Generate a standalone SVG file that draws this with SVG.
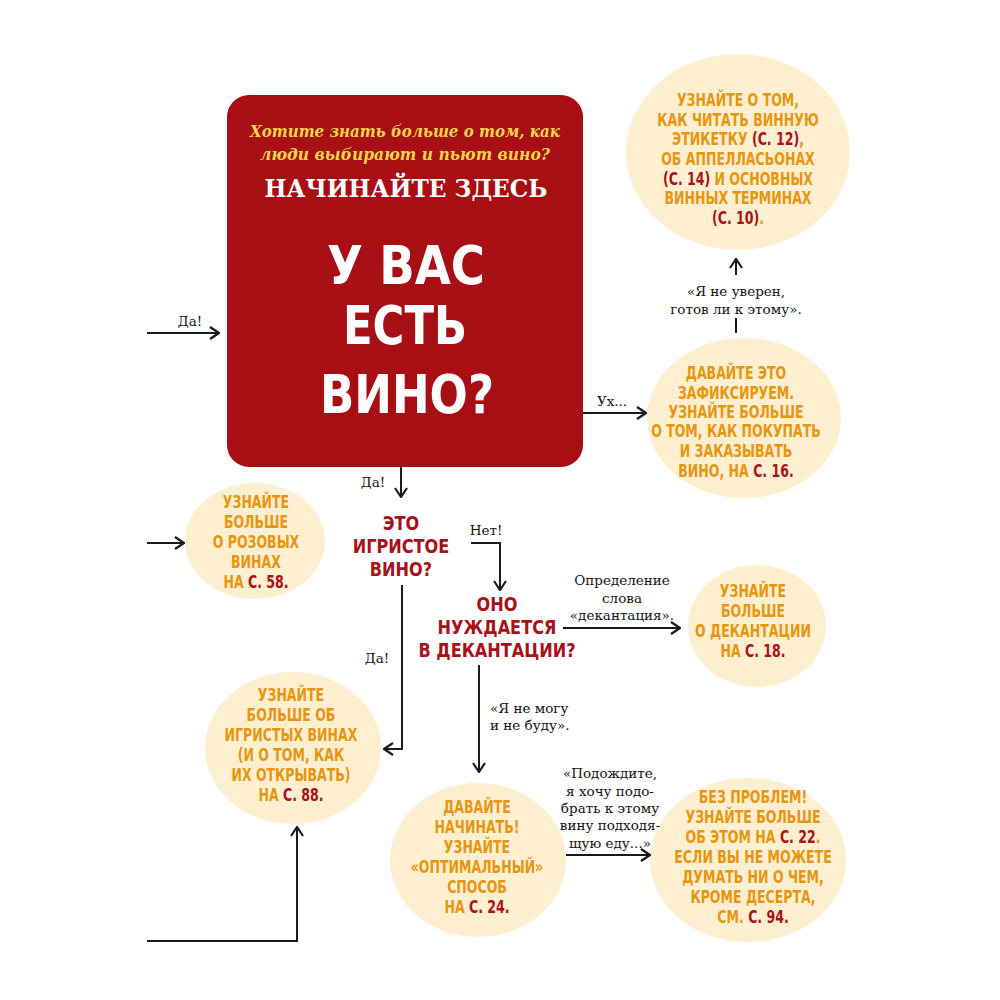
<svg xmlns="http://www.w3.org/2000/svg" width="1000" height="1000" viewBox="0 0 1000 1000">
<defs>
<marker id="ah" viewBox="0 0 12 14" refX="11" refY="7" markerWidth="12" markerHeight="14" markerUnits="userSpaceOnUse" orient="auto">
<path d="M2,1 L11,7 L2,13" fill="none" stroke="#1a1a1a" stroke-width="2.2"/>
</marker>
</defs>
<style>
.bg{fill:#ffffff}
.blob{fill:#fdefd0}
.o{font-family:"DejaVu Sans Condensed","DejaVu Sans","Liberation Sans",sans-serif;font-stretch:condensed;font-weight:bold;font-size:17px;fill:#e8950e;text-anchor:middle}
.r{fill:#a6111a}
.q{font-family:"DejaVu Sans Condensed","DejaVu Sans","Liberation Sans",sans-serif;font-stretch:condensed;font-weight:bold;font-size:19.5px;fill:#a6111a;text-anchor:middle}
.b{font-family:"DejaVu Serif","Liberation Serif",serif;font-size:13.5px;fill:#111111;text-anchor:middle}
.bs{font-family:"DejaVu Serif","Liberation Serif",serif;font-size:13.5px;fill:#111111;text-anchor:start}
.ln{fill:none;stroke:#1a1a1a;stroke-width:2}
.arr{fill:none;stroke:#1a1a1a;stroke-width:2;marker-end:url(#ah)}
</style>
<rect class="bg" x="0" y="0" width="1000" height="1000"/>

<g id="start">
<rect x="227" y="95" width="356" height="372" rx="22" fill="#a70f14"/>
<text x="405" y="137" font-family="'DejaVu Serif','Liberation Serif',serif" font-style="italic" font-weight="bold" font-size="16" fill="#f3d44b" text-anchor="middle" textLength="310" lengthAdjust="spacingAndGlyphs">Хотите знать больше о том, как</text>
<text x="405" y="160" font-family="'DejaVu Serif','Liberation Serif',serif" font-style="italic" font-weight="bold" font-size="16" fill="#f3d44b" text-anchor="middle" textLength="290" lengthAdjust="spacingAndGlyphs">люди выбирают и пьют вино?</text>
<text x="406" y="197" font-family="'DejaVu Serif','Liberation Serif',serif" font-weight="bold" font-size="25" fill="#ffffff" text-anchor="middle" textLength="283" lengthAdjust="spacingAndGlyphs">НАЧИНАЙТЕ ЗДЕСЬ</text>
<text x="406" y="284" font-family="'DejaVu Sans Condensed','DejaVu Sans',sans-serif" font-weight="bold" font-size="54" fill="#ffffff" text-anchor="middle" textLength="158" lengthAdjust="spacingAndGlyphs">У ВАС</text>
<text x="405" y="344" font-family="'DejaVu Sans Condensed','DejaVu Sans',sans-serif" font-weight="bold" font-size="54" fill="#ffffff" text-anchor="middle" textLength="124" lengthAdjust="spacingAndGlyphs">ЕСТЬ</text>
<text x="407" y="413" font-family="'DejaVu Sans Condensed','DejaVu Sans',sans-serif" font-weight="bold" font-size="54" fill="#ffffff" text-anchor="middle" textLength="174" lengthAdjust="spacingAndGlyphs">ВИНО?</text>
</g>

<g id="labels-terms">
<ellipse class="blob" cx="738" cy="152" rx="112" ry="98"/>
<g transform="translate(738 0) scale(0.82 1) translate(-738 0)">
<text class="o" x="738" y="106">УЗНАЙТЕ О ТОМ,</text>
<text class="o" x="738" y="126">КАК ЧИТАТЬ ВИННУЮ</text>
<text class="o" x="738" y="145">ЭТИКЕТКУ <tspan class="r">(С. 12)</tspan>,</text>
<text class="o" x="738" y="165">ОБ АППЕЛЛАСЬОНАХ</text>
<text class="o" x="738" y="185"><tspan class="r">(С. 14)</tspan> И ОСНОВНЫХ</text>
<text class="o" x="738" y="204">ВИННЫХ ТЕРМИНАХ</text>
<text class="o" x="738" y="224"><tspan class="r">(С. 10)</tspan>.</text>
</g>
</g>

<g id="buy">
<ellipse class="blob" cx="744" cy="418" rx="97" ry="80"/>
<g transform="translate(736 0) scale(0.82 1) translate(-736 0)">
<text class="o" x="736" y="379">ДАВАЙТЕ ЭТО</text>
<text class="o" x="736" y="399">ЗАФИКСИРУЕМ.</text>
<text class="o" x="736" y="418">УЗНАЙТЕ БОЛЬШЕ</text>
<text class="o" x="736" y="437">О ТОМ, КАК ПОКУПАТЬ</text>
<text class="o" x="736" y="457">И ЗАКАЗЫВАТЬ</text>
<text class="o" x="736" y="477">ВИНО, НА <tspan class="r">С. 16.</tspan></text>
</g>
</g>

<g id="rose">
<ellipse class="blob" cx="255" cy="541" rx="70" ry="58"/>
<g transform="translate(256 0) scale(0.82 1) translate(-256 0)">
<text class="o" x="256" y="508">УЗНАЙТЕ</text>
<text class="o" x="256" y="528">БОЛЬШЕ</text>
<text class="o" x="256" y="548">О РОЗОВЫХ</text>
<text class="o" x="256" y="568">ВИНАХ</text>
<text class="o" x="256" y="588">НА <tspan class="r">С. 58.</tspan></text>
</g>
</g>

<g id="sparkling-q">
<g transform="translate(401 0) scale(0.92 1) translate(-401 0)">
<text class="q" x="401" y="530">ЭТО</text>
<text class="q" x="401" y="553">ИГРИСТОЕ</text>
<text class="q" x="401" y="576">ВИНО?</text>
</g>
</g>

<g id="decant-q">
<g transform="translate(497 0) scale(0.92 1) translate(-497 0)">
<text class="q" x="497" y="611">ОНО</text>
<text class="q" x="497" y="634">НУЖДАЕТСЯ</text>
<text class="q" x="497" y="657">В ДЕКАНТАЦИИ?</text>
</g>
</g>

<g id="sparkling">
<ellipse class="blob" cx="293" cy="748" rx="88" ry="76"/>
<g transform="translate(291 0) scale(0.82 1) translate(-291 0)">
<text class="o" x="291" y="701">УЗНАЙТЕ</text>
<text class="o" x="291" y="721">БОЛЬШЕ ОБ</text>
<text class="o" x="291" y="741">ИГРИСТЫХ ВИНАХ</text>
<text class="o" x="291" y="761">(И О ТОМ, КАК</text>
<text class="o" x="291" y="781">ИХ ОТКРЫВАТЬ)</text>
<text class="o" x="291" y="801">НА <tspan class="r">С. 88.</tspan></text>
</g>
</g>

<g id="decant">
<ellipse class="blob" cx="757" cy="626" rx="69" ry="61"/>
<g transform="translate(753 0) scale(0.82 1) translate(-753 0)">
<text class="o" x="753" y="597">УЗНАЙТЕ</text>
<text class="o" x="753" y="617">БОЛЬШЕ</text>
<text class="o" x="753" y="637">О ДЕКАНТАЦИИ</text>
<text class="o" x="753" y="657">НА <tspan class="r">С. 18.</tspan></text>
</g>
</g>

<g id="open">
<ellipse class="blob" cx="478" cy="860" rx="88" ry="77"/>
<g transform="translate(477 0) scale(0.82 1) translate(-477 0)">
<text class="o" x="477" y="813">ДАВАЙТЕ</text>
<text class="o" x="477" y="833">НАЧИНАТЬ!</text>
<text class="o" x="477" y="853">УЗНАЙТЕ</text>
<text class="o" x="477" y="873">«ОПТИМАЛЬНЫЙ»</text>
<text class="o" x="477" y="893">СПОСОБ</text>
<text class="o" x="477" y="913">НА <tspan class="r">С. 24.</tspan></text>
</g>
</g>

<g id="food">
<ellipse class="blob" cx="748" cy="860" rx="98" ry="82"/>
<g transform="translate(753 0) scale(0.82 1) translate(-753 0)">
<text class="o" x="753" y="803">БЕЗ ПРОБЛЕМ!</text>
<text class="o" x="753" y="823">УЗНАЙТЕ БОЛЬШЕ</text>
<text class="o" x="753" y="843">ОБ ЭТОМ НА <tspan class="r">С. 22</tspan>.</text>
<text class="o" x="753" y="863">ЕСЛИ ВЫ НЕ МОЖЕТЕ</text>
<text class="o" x="753" y="883">ДУМАТЬ НИ О ЧЕМ,</text>
<text class="o" x="753" y="903">КРОМЕ ДЕСЕРТА,</text>
<text class="o" x="753" y="923">СМ. <tspan class="r">С. 94.</tspan></text>
</g>
</g>

<g id="connectors">
<path class="arr" d="M147,333 H219"/>
<text class="b" x="190" y="326">Да!</text>
<path class="arr" d="M583,413 H646"/>
<text class="b" x="612" y="406">Ух...</text>
<path class="ln" d="M736,333 V318"/>
<path class="arr" d="M736,275 V259"/>
<text class="b" x="736" y="296">«Я не уверен,</text>
<text class="b" x="736" y="314">готов ли к этому».</text>
<path class="arr" d="M401,467 V497"/>
<text class="b" x="373" y="487">Да!</text>
<path class="arr" d="M147,543 H184"/>
<path class="arr" d="M471,543 H500 V590"/>
<text class="b" x="486" y="535">Нет!</text>
<path class="arr" d="M402,585 V749 H384"/>
<text class="b" x="377" y="663">Да!</text>
<path class="arr" d="M563,628 H680"/>
<text class="b" x="622" y="585">Определение</text>
<text class="b" x="622" y="603">слова</text>
<text class="b" x="622" y="620">«декантация».</text>
<path class="arr" d="M479,665 V772"/>
<text class="bs" x="490" y="713">«Я не могу</text>
<text class="bs" x="490" y="730">и не буду».</text>
<path class="arr" d="M147,941 H297 V827"/>
<path class="arr" d="M566,855 H650"/>
<text class="b" x="610" y="778">«Подождите,</text>
<text class="b" x="610" y="796">я хочу подо-</text>
<text class="b" x="610" y="813">брать к этому</text>
<text class="b" x="610" y="830">вину подходя-</text>
<text class="b" x="610" y="848">щую еду...»</text>
</g>
</svg>
